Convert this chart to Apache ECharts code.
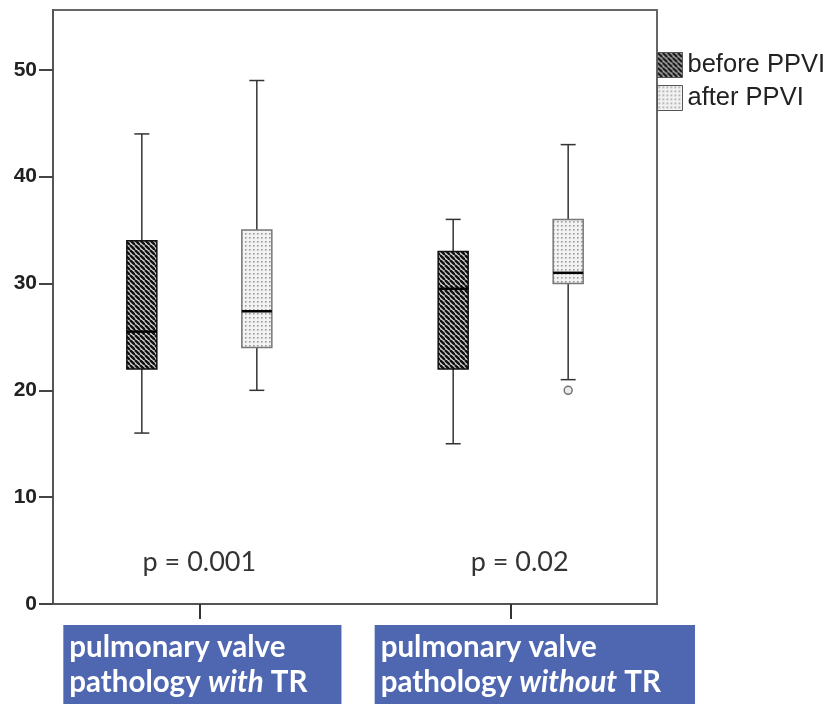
<!DOCTYPE html>
<html>
<head>
<meta charset="utf-8">
<script src="https://cdn.jsdelivr.net/npm/echarts@6.0.0/dist/echarts.min.js"></script>
<style>
html,body{margin:0;padding:0;background:#fff;}
#chart{width:829px;height:704px;}
</style>
</head>
<body>
<div id="chart"></div>
<script>
// ---- data ----
const categories = ['pulmonary valve pathology with TR', 'pulmonary valve pathology without TR'];
const catLine1 = ['pulmonary valve', 'pulmonary valve'];
const catLine2a = ['pathology ', 'pathology '];
const catLine2i = ['with', 'without'];
const catLine2b = [' TR', ' TR'];
const seriesNames = ['before PPVI', 'after PPVI'];
// [low whisker, Q1, median, Q3, high whisker] per category
const beforeStats = [[16, 22, 25.5, 34, 44], [15, 22, 29.5, 33, 36]];
const afterStats = [[20, 24, 27.4, 35, 49], [21, 30, 31, 36, 43]];
const afterOutliers = [[1, 20]]; // [category index, value]
const pValues = ['p = 0.001', 'p = 0.02'];
const yTicks = [0, 10, 20, 30, 40, 50];

// ---- patterns ----
function hatchPattern() {
  const c = document.createElement('canvas');
  c.width = 5; c.height = 5;
  const g = c.getContext('2d');
  g.fillStyle = '#cfcfcf'; g.fillRect(0, 0, 5, 5);
  g.strokeStyle = '#111'; g.lineWidth = 2.4;
  for (const k of [-5, 0, 5]) { g.beginPath(); g.moveTo(k, 0); g.lineTo(k + 5, 5); g.stroke(); }
  return { image: c, repeat: 'repeat' };
}
function dotPattern() {
  const c = document.createElement('canvas');
  c.width = 4; c.height = 4;
  const g = c.getContext('2d');
  g.fillStyle = '#f2f2f2'; g.fillRect(0, 0, 4, 4);
  g.fillStyle = '#9a9a9a'; g.fillRect(1, 1, 1.6, 1.6);
  return { image: c, repeat: 'repeat' };
}
const fills = [hatchPattern(), dotPattern()];
const borders = ['#111', '#777'];

const catPos = categories.map((_, i) => i + 1);
const unitPx = 604 / 1.94;
const offsets = [-57.5 / unitPx, 57.5 / unitPx];
const halfBox = 15 / unitPx;
const labelShift = 136 / unitPx;

function makeRender(si) {
  return function (params, api) {
    const x = api.value(0) + offsets[si];
    const low = api.coord([x, api.value(1)]);
    const q1 = api.coord([x, api.value(2)]);
    const med = api.coord([x, api.value(3)]);
    const q3 = api.coord([x, api.value(4)]);
    const high = api.coord([x, api.value(5)]);
    const hw = api.size([halfBox, 0])[0];
    const cx = low[0];
    const wStyle = { stroke: '#333', lineWidth: 1.5 };
    return {
      type: 'group',
      children: [
        { type: 'line', shape: { x1: cx, y1: high[1], x2: cx, y2: q3[1] }, style: wStyle },
        { type: 'line', shape: { x1: cx, y1: q1[1], x2: cx, y2: low[1] }, style: wStyle },
        { type: 'line', shape: { x1: cx - hw / 2, y1: high[1], x2: cx + hw / 2, y2: high[1] }, style: wStyle },
        { type: 'line', shape: { x1: cx - hw / 2, y1: low[1], x2: cx + hw / 2, y2: low[1] }, style: wStyle },
        { type: 'rect', shape: { x: cx - hw, y: q3[1], width: 2 * hw, height: q1[1] - q3[1] },
          style: { fill: fills[si], stroke: borders[si], lineWidth: 1.5 } },
        { type: 'line', shape: { x1: cx - hw, y1: med[1], x2: cx + hw, y2: med[1] },
          style: { stroke: '#000', lineWidth: 2.5 } }
      ]
    };
  };
}

const statsList = [beforeStats, afterStats];
const boxSeries = seriesNames.map((name, si) => ({
  name: name,
  type: 'custom',
  renderItem: makeRender(si),
  itemStyle: { color: fills[si] },
  encode: { x: 0, y: [1, 2, 3, 4, 5] },
  data: statsList[si].map((s, ci) => [catPos[ci]].concat(s)),
  z: 3
}));

const labelValues = catPos.map(v => v - labelShift);

const option = {
  animation: false,
  backgroundColor: '#fff',
  grid: { left: 53, right: 172, top: 10, bottom: 100, show: true, borderColor: '#666', borderWidth: 2,
          containLabel: false, outerBoundsMode: 'none' },
  legend: {
    orient: 'vertical', left: 657, top: 52, padding: 0, itemGap: 7,
    itemWidth: 25, itemHeight: 25, icon: 'rect',
    textStyle: { fontFamily: 'Liberation Sans', fontSize: 25.5, color: '#222' },
    data: seriesNames.map((n, i) => ({ name: n, itemStyle: { color: fills[i], borderColor: '#555', borderWidth: 1 } }))
  },
  xAxis: {
    type: 'value', min: 0.53, max: 2.47,
    splitLine: { show: false },
    axisLine: { show: true, lineStyle: { color: '#555', width: 2 } },
    axisTick: { show: true, customValues: catPos, length: 15, lineStyle: { color: '#333', width: 2 } },
    axisLabel: {
      customValues: labelValues,
      align: 'left', verticalAlign: 'top', margin: 21,
      backgroundColor: '#4f66b0',
      padding: [5, 34, 30, 6],
      formatter: function (v) {
        const i = Math.round(v + labelShift) - 1;
        return '{n|' + catLine1[i] + '}\n{n|' + catLine2a[i] + '}{i|' + catLine2i[i] + '}{n|' + catLine2b[i] + '}';
      },
      rich: {
        n: { fontFamily: 'Lato', fontWeight: 'bold', fontSize: 29.5, color: '#fff', lineHeight: 35 },
        i: { fontFamily: 'Lato', fontWeight: 'bold', fontStyle: 'italic', fontSize: 29.5, color: '#fff', lineHeight: 35 }
      }
    }
  },
  yAxis: {
    type: 'value', min: 0, max: 55.6,
    splitLine: { show: false },
    axisLine: { show: true, lineStyle: { color: '#555', width: 2 } },
    axisTick: { show: true, customValues: yTicks, length: 14, lineStyle: { color: '#444', width: 2 } },
    axisLabel: { customValues: yTicks, margin: 16, fontFamily: 'Liberation Sans', fontWeight: 'bold', fontSize: 21, color: '#222' }
  },
  series: boxSeries.concat([
    {
      name: 'outliers', type: 'scatter', symbol: 'circle', symbolSize: 8,
      itemStyle: { color: '#e6e6e6', borderColor: '#555', borderWidth: 1.5 },
      data: afterOutliers.map(o => [catPos[o[0]] + offsets[1], o[1]]), z: 4
    },
    {
      name: 'p', type: 'scatter', symbolSize: 0, silent: true,
      label: { show: true, position: 'inside', formatter: p => p.data[2],
        fontFamily: 'Lato', fontSize: 27, color: '#000' },
      data: pValues.map((t, i) => [catPos[i] + (i === 1 ? 9 / unitPx : 0), 3.9, t])
    }
  ])
};

const chart = echarts.init(document.getElementById('chart'));
chart.setOption(option);
</script>
</body>
</html>
